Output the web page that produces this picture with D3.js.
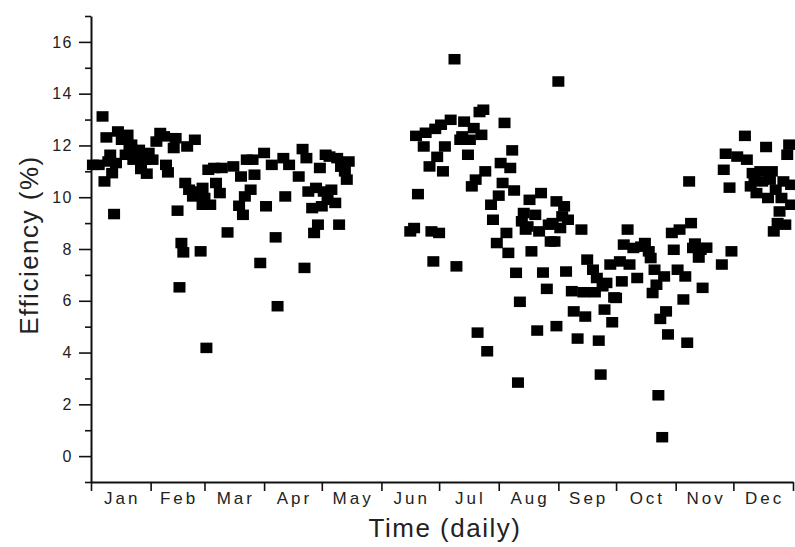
<!DOCTYPE html>
<html>
<head>
<meta charset="utf-8">
<script src="https://cdnjs.cloudflare.com/ajax/libs/d3/7.8.5/d3.min.js"></script>
<style>
  body { margin: 0; background: #fff; }
  svg { display: block; font-family: "Liberation Sans", Arial, sans-serif; }
  .axis path, .axis line { stroke: #111; }
</style>
</head>
<body>
<svg id="chart" width="795" height="547"></svg>
<script>
var MONTHS = ['Jan', 'Feb', 'Mar', 'Apr', 'May', 'Jun', 'Jul', 'Aug', 'Sep', 'Oct', 'Nov', 'Dec'];
var MONTH_START = [0, 31, 59, 90, 120, 151, 181, 212, 243, 273, 304, 334, 365];
var Y_TICKS = [0, 2, 4, 6, 8, 10, 12, 14, 16];
var Y_MINOR = [-1, 1, 3, 5, 7, 9, 11, 13, 15, 17];

// day of year and measured efficiency (%)
var DAYS = [
  1, 4, 6, 7, 8, 9, 10, 11, 12, 13, 14, 16, 18, 19, 20, 21, 22, 23, 25, 26, 28, 29, 30,
  32, 34, 36, 38, 39, 40, 43, 44, 45, 46, 47, 48, 49, 50, 51, 53, 54, 55, 57, 58, 58,
  59, 60, 61, 62, 64, 65, 67, 68, 71, 74, 77, 78, 79, 80, 81, 83, 84, 85, 88, 90,
  91, 94, 96, 97, 100, 101, 103, 108, 110, 111, 112, 113, 115, 116, 117, 118, 119, 120,
  121, 122, 123, 124, 125, 127, 128, 129, 130, 132, 133, 134,
  166, 168, 169, 170, 173, 174, 176, 177, 178, 179, 180, 181, 182,
  183, 184, 187, 189, 190, 192, 193, 194, 196, 197, 198, 199, 200, 201, 202, 203, 204, 205, 206, 208, 209, 211, 212,
  213, 214, 215, 216, 217, 218, 219, 220, 221, 222, 223, 224, 225, 226, 227, 228, 229, 231, 232, 233, 234, 235, 237, 238, 239, 240, 241, 242, 242,
  243, 244, 245, 246, 247, 248, 250, 251, 253, 255, 256, 257, 258, 261, 262, 263, 264, 265, 266, 267, 268, 270, 271, 272,
  273, 275, 276, 277, 279, 280, 282, 284, 286, 288, 290, 291, 292, 293, 294, 295, 296, 297, 298, 299, 300, 302, 303,
  305, 306, 308, 309, 310, 311, 312, 313, 314, 316, 317, 318, 320, 328, 329, 330, 332, 333,
  336, 340, 341, 343, 344, 345, 346, 348, 349, 351, 352, 353, 354, 355, 356, 357, 358, 359, 360, 361, 362, 363, 364, 364
];
var EFFICIENCY = [
  11.25, 11.25, 13.12, 10.61, 12.31, 11.38, 11.64, 10.93, 9.35, 11.32, 12.54, 12.22, 11.64, 12.41, 11.83, 12.03, 11.45, 11.64, 11.83, 11.09, 11.45, 10.91, 11.71,
  11.45, 12.15, 12.48, 12.35, 11.25, 10.96, 11.90, 12.28, 9.48, 6.52, 8.23, 7.87, 10.55, 11.96, 10.29, 10.03, 12.22, 10.22, 7.91, 10.36, 9.71,
  9.97, 4.18, 11.06, 9.71, 11.13, 10.55, 10.16, 11.13, 8.64, 11.19, 9.67, 10.80, 9.32, 10.03, 11.45, 10.29, 11.45, 10.87, 7.46, 11.71,
  9.65, 11.25, 8.45, 5.79, 11.51, 10.03, 11.25, 10.80, 11.86, 7.27, 11.51, 10.22, 9.58, 8.62, 10.36, 8.94, 11.13, 9.65,
  10.22, 11.64, 9.90, 11.57, 10.29, 9.78, 11.51, 8.94, 11.18, 11.00, 10.68, 11.38,
  8.68, 8.81, 12.37, 10.12, 11.96, 12.49, 11.19, 8.68, 7.52, 12.64, 11.56, 8.62, 12.80,
  11.00, 11.96, 12.99, 15.33, 7.33, 12.22, 12.35, 12.92, 11.64, 12.22, 10.42, 12.67, 10.68, 4.77, 13.29, 12.41, 13.38, 11.00, 4.05, 9.71, 9.13, 8.23, 10.06,
  11.32, 10.55, 12.87, 8.62, 7.85, 11.13, 11.81, 10.26, 7.08, 2.84, 5.96, 9.07, 9.39, 8.75, 8.87, 9.90, 7.91, 9.32, 4.85, 8.68, 10.16, 7.09, 6.46, 8.94, 8.29, 9.00, 8.29, 9.84, 5.02,
  14.47, 8.81, 9.26, 9.65, 7.13, 9.13, 6.37, 5.59, 4.54, 8.75, 6.33, 5.39, 7.59, 7.20, 6.33, 6.88, 4.46, 3.15, 6.56, 5.66, 6.69, 7.40, 5.17, 6.13,
  6.11, 7.52, 6.75, 8.17, 8.75, 7.40, 8.04, 6.88, 8.09, 8.23, 7.91, 7.65, 6.30, 7.20, 6.62, 2.35, 5.30, 0.73, 6.94, 5.59, 4.70, 8.62, 7.97,
  7.20, 8.75, 6.05, 6.94, 4.38, 10.61, 9.00, 8.04, 8.21, 7.67, 7.97, 6.50, 8.05, 7.40, 11.06, 11.68, 10.37, 7.91,
  11.57, 12.37, 11.45, 10.42, 10.93, 10.68, 10.16, 11.00, 10.61, 11.94, 9.97, 10.68, 11.00, 8.68, 10.29, 9.00, 9.45, 9.97, 10.61, 8.94, 11.64, 12.03, 10.48, 9.71
];

var svg = d3.select('#chart');
var plotLeft = 91, plotRight = 793, plotTop = 16, plotBottom = 482;

var x = d3.scaleLinear().domain([0, 365]).range([plotLeft, plotRight]);
var y = d3.scaleLinear().domain([-1, 17]).range([plotBottom, plotTop]);

// y axis: minor then major ticks
svg.append('g')
  .attr('class', 'axis')
  .attr('transform', 'translate(' + plotLeft + ',0)')
  .call(d3.axisLeft(y).tickValues(Y_MINOR).tickSize(6).tickSizeOuter(0).tickFormat(''))
  .call(function(g){ g.select('.domain').attr('stroke-width', 2); g.selectAll('line').attr('stroke-width', 1.6); });

svg.append('g')
  .attr('class', 'axis')
  .attr('transform', 'translate(' + plotLeft + ',0)')
  .call(d3.axisLeft(y).tickValues(Y_TICKS).tickSize(12).tickPadding(6).tickFormat(d3.format('d')))
  .call(function(g){
    g.select('.domain').remove();
    g.selectAll('line').attr('stroke-width', 1.6);
    g.selectAll('text')
      .attr('font-size', 16)
      .attr('fill', '#222')
      .attr('font-family', '"Liberation Sans", Arial, sans-serif')
      .style('letter-spacing', '1.5px');
  });

// x axis: month boundaries
svg.append('g')
  .attr('class', 'axis')
  .attr('transform', 'translate(0,' + plotBottom + ')')
  .call(d3.axisBottom(x).tickValues(MONTH_START).tickSize(9).tickSizeOuter(0).tickFormat(''))
  .call(function(g){ g.select('.domain').attr('stroke-width', 2); g.selectAll('line').attr('stroke-width', 1.6); });

svg.append('g').selectAll('text')
  .data(MONTHS)
  .enter().append('text')
  .attr('x', function(d, i){ return (x(MONTH_START[i]) + x(MONTH_START[i + 1])) / 2 + 1.5; })
  .attr('y', 504)
  .attr('text-anchor', 'middle')
  .attr('font-size', 17)
  .attr('fill', '#222')
  .style('letter-spacing', '3px')
  .text(function(d){ return d; });

// points
svg.append('g').selectAll('rect')
  .data(DAYS)
  .enter().append('rect')
  .attr('x', function(d){ return x(d) - 6; })
  .attr('y', function(d, i){ return y(EFFICIENCY[i]) - 5.25; })
  .attr('width', 12)
  .attr('height', 10.5)
  .attr('fill', '#000');

// axis titles
svg.append('text')
  .attr('x', 445)
  .attr('y', 537)
  .attr('text-anchor', 'middle')
  .attr('font-size', 26)
  .attr('fill', '#222')
  .style('letter-spacing', '1.5px')
  .text('Time (daily)');

svg.append('text')
  .attr('transform', 'translate(38,245) rotate(-90)')
  .attr('text-anchor', 'middle')
  .attr('font-size', 26)
  .attr('fill', '#222')
  .style('letter-spacing', '1.5px')
  .text('Efficiency (%)');
</script>
</body>
</html>
